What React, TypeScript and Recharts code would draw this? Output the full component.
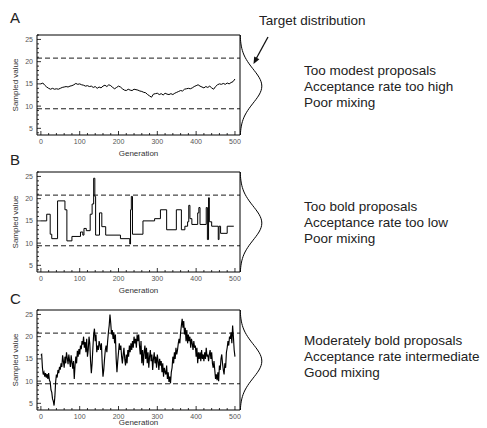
import React from 'react';
import { LineChart, Line, XAxis, YAxis, ReferenceLine } from 'recharts';

// ---------- axis ticks ----------
const generationTicks = [0, 20, 40, 60, 80, 100, 120, 140, 160, 180, 200, 220, 240, 260, 280, 300, 320, 340, 360, 380, 400, 420, 440, 460, 480, 500];
const valueTicks = [4, 5, 6, 7, 8, 9, 10, 11, 12, 13, 14, 15, 16, 17, 18, 19, 20, 21, 22, 23, 24, 25, 26];
const upperBound = 20.8;
const lowerBound = 9.4;

// ---------- Panel A: small steps (generation every 5) ----------
const genA = Array.from({ length: 101 }, (_, i) => i * 5);
const valA = [
  15.0, 15.2, 14.7, 14.3, 14.0, 13.8, 14.0, 13.8, 13.9, 13.8,
  14.0, 14.2, 14.3, 14.4, 14.3, 14.5, 14.6, 14.8, 15.1, 14.9,
  15.0, 14.8, 14.7, 14.5, 14.6, 14.4, 14.5, 14.2, 14.4, 14.0,
  14.3, 14.1, 14.5, 14.7, 14.4, 14.8, 14.6, 14.2, 13.9, 14.2,
  14.5, 14.3, 13.9, 13.6, 13.5, 13.8, 13.6, 13.5, 13.8, 13.7,
  13.6, 13.4, 13.3, 13.1, 13.0, 12.6, 12.3, 12.0, 12.7, 12.8,
  12.9, 12.6, 12.8, 12.5, 12.9, 12.7, 12.6, 12.8, 12.6, 12.9,
  13.1, 13.3, 13.5, 13.4, 13.8, 13.9, 14.0, 13.9, 14.1, 14.4,
  14.6, 14.8, 14.5, 14.3, 14.1, 14.4, 14.2, 14.5, 14.1, 13.8,
  14.4, 14.8, 15.0, 14.9, 15.1, 14.9, 15.2, 15.0, 15.3, 15.5,
  16.1,
];

// ---------- Panel B: bold steps (change points) ----------
const genB = [0, 15, 24, 28, 43, 62, 67, 80, 102, 108, 111, 117, 127, 132, 136, 139, 141, 151, 157, 167, 205, 229, 231, 233, 236, 263, 293, 308, 324, 349, 362, 371, 378, 381, 384, 389, 404, 407, 410, 426, 429, 432, 434, 440, 457, 459, 463, 480, 497];
const valB = [15.0, 16.5, 12.0, 11.0, 19.5, 17.5, 10.5, 11.5, 12.5, 11.8, 13.3, 12.8, 16.5, 18.8, 24.6, 20.5, 11.8, 16.8, 13.7, 11.8, 11.0, 9.8, 17.5, 20.5, 12.0, 15.0, 15.5, 17.5, 13.0, 17.5, 13.0, 13.8, 14.8, 18.5, 15.5, 14.2, 16.8, 18.0, 14.2, 18.0, 10.8, 20.2, 14.8, 13.8, 10.8, 13.8, 12.2, 13.8, 13.8];

// ---------- Panel C: moderate steps (generation every 2) ----------
const genC = Array.from({ length: 251 }, (_, i) => i * 2);
const valC = [
  15.8, 16.0, 13.0, 11.5, 12.0, 11.0, 11.8, 10.8, 11.6, 10.5,
  11.8, 10.2, 9.8, 8.0, 7.5, 6.0, 5.5, 4.5, 6.5, 9.8,
  11.5, 10.8, 12.5, 11.8, 13.2, 12.6, 14.0, 13.2, 15.8, 14.5,
  13.0, 15.5, 14.0, 16.5, 15.2, 13.8, 16.0, 14.5, 13.2, 15.8,
  14.2, 12.8, 14.5, 10.5, 13.5, 15.5, 14.0, 16.8, 15.5, 17.2,
  16.0, 18.0, 17.2, 19.0, 18.2, 20.0, 17.5, 18.8, 16.5, 19.5,
  15.5, 17.0, 20.0, 18.5, 14.5, 11.8, 14.0, 17.5, 20.5, 21.8,
  19.0, 20.5, 16.5, 18.0, 17.0, 19.0, 18.2, 17.0, 18.5, 14.0,
  11.0, 12.5, 15.0, 17.0, 18.0, 16.5, 19.0, 21.0, 22.5, 25.0,
  23.0, 20.5, 21.5, 19.5, 21.0, 18.5, 20.5, 15.0, 12.0, 14.5,
  16.5, 18.5, 17.0, 18.0, 15.5, 14.0, 16.0, 17.5, 15.0, 13.5,
  16.0, 14.0, 17.0, 15.5, 18.0, 16.5, 18.5, 17.0, 19.0, 17.5,
  20.0, 18.5, 19.5, 17.5, 20.5, 19.0, 20.5, 18.0, 16.0, 19.0,
  14.0, 17.0, 13.5, 16.5, 18.0, 15.0, 17.5, 14.0, 16.5, 13.0,
  15.5, 17.0, 14.5, 16.0, 12.5, 15.0, 16.5, 14.0, 15.5, 13.0,
  16.0, 14.5, 12.5, 15.0, 13.5, 14.5, 12.0, 14.0, 11.0, 13.0,
  12.0, 11.5, 13.5, 10.5, 12.0, 9.8, 11.0, 9.5, 12.0, 13.0,
  15.5, 14.0, 16.5, 15.0, 17.5, 16.0, 17.0, 18.5, 19.5, 18.5,
  21.0, 22.5, 24.0, 22.0, 23.5, 20.5, 22.0, 19.0, 21.5, 18.5,
  20.5, 19.0, 20.0, 17.5, 19.5, 18.5, 17.0, 19.0, 17.5, 18.0,
  15.5, 17.5, 14.0, 16.5, 15.0, 16.5, 14.5, 17.0, 15.0, 16.0,
  14.5, 16.5, 15.0, 17.5, 15.5, 16.0, 14.5, 16.0, 17.0, 15.0,
  16.5, 14.0, 13.0, 14.5, 12.5, 10.5, 11.5, 10.2, 12.0, 10.0,
  13.5, 12.5, 15.0, 16.0, 14.0, 12.5, 11.5, 14.0, 13.0, 16.5,
  17.5, 19.0, 18.0, 20.0, 19.5, 21.0, 18.5, 22.5, 20.0, 17.0,
  15.5,
];

// ---------- Target distribution (relative density) ----------
const densValue = [3.5, 4, 4.5, 5, 5.5, 6, 6.5, 7, 7.5, 8, 8.5, 9, 9.5, 10, 10.5, 11, 11.5, 12, 12.5, 13, 13.5, 14, 14.5, 15, 15.5, 16, 16.5, 17, 17.5, 18, 18.5, 19, 19.5, 20, 20.5, 21, 21.5, 22, 22.5, 23, 23.5, 24, 24.5, 25, 25.5, 26];
const densHeight = [0.0103, 0.0151, 0.022, 0.0314, 0.0439, 0.0605, 0.082, 0.109, 0.143, 0.183, 0.232, 0.288, 0.351, 0.421, 0.496, 0.575, 0.654, 0.732, 0.805, 0.871, 0.925, 0.966, 0.991, 1, 0.991, 0.966, 0.925, 0.871, 0.805, 0.732, 0.654, 0.575, 0.496, 0.421, 0.351, 0.288, 0.232, 0.183, 0.143, 0.109, 0.082, 0.0605, 0.0439, 0.0314, 0.022, 0.0151];

const panelLetters = ['A', 'B', 'C'];
const panelNotes = [
  ['Too modest proposals', 'Acceptance rate too high', 'Poor mixing'],
  ['Too bold proposals', 'Acceptance rate too low', 'Poor mixing'],
  ['Moderately bold proposals', 'Acceptance rate intermediate', 'Good mixing'],
];

const FONT = '"Liberation Sans", Arial, Helvetica, sans-serif';

const zip = (g: number[], v: number[]) => g.map((x, i) => ({ g: x, v: v[i] })).filter((d) => d.v !== undefined);
const dataA = zip(genA, valA);
const dataB = zip(genB, valB);
const dataC = zip(genC, valC);
const densData = densValue.map((v, i) => ({ v, d: densHeight[i] }));

const XTick = (props: any) => {
  const { x, y, payload } = props;
  const major = payload.value % 100 === 0;
  return (
    <g>
      <line x1={x} y1={y} x2={x} y2={y - (major ? 4 : 2)} stroke="#000" strokeWidth={0.8} />
      {major && (
        <text x={x} y={y + 8.5} textAnchor="middle" fontSize={7} fill="#555" fontFamily={FONT}>
          {payload.value}
        </text>
      )}
    </g>
  );
};

const YTick = (props: any) => {
  const { x, y, payload } = props;
  const major = payload.value % 5 === 0;
  return (
    <g>
      <line x1={x} y1={y} x2={x + (major ? 4 : 2)} y2={y} stroke="#000" strokeWidth={0.8} />
      {major && (
        <text x={x - 4} y={y + 2.5} textAnchor="end" fontSize={7} fill="#555" fontFamily={FONT}>
          {payload.value}
        </text>
      )}
    </g>
  );
};

const PLOT_TOPS = [35, 172, 310];
const LABEL_OFFSETS = [14, 14, 20];
const TRACE_WIDTHS = [1, 1, 1.15];

function TracePanel({ idx, data, step }: { idx: number; data: { g: number; v: number }[]; step: boolean }) {
  const plotTop = PLOT_TOPS[idx];
  return (
    <div style={{ position: 'absolute', left: 0, top: plotTop - 35, width: 260, height: 170 }}>
      <LineChart width={260} height={170} data={data} margin={{ top: 35, right: 20, bottom: 0, left: 10 }}>
        <XAxis
          type="number"
          dataKey="g"
          domain={[-10, 513]}
          ticks={generationTicks}
          interval={0}
          tickSize={0}
          tickMargin={0}
          tickLine={false}
          axisLine={{ stroke: '#000' }}
          height={35}
          tick={XTick}
          label={{ value: 'Generation', position: 'insideBottom', offset: LABEL_OFFSETS[idx], fontSize: 8, fill: '#333', fontFamily: FONT }}
        />
        <YAxis
          type="number"
          domain={[3.5, 26]}
          ticks={valueTicks}
          interval={0}
          tickSize={0}
          tickMargin={0}
          tickLine={false}
          axisLine={{ stroke: '#000' }}
          width={27}
          tick={YTick}
          label={{ value: 'Sampled value', angle: -90, position: 'insideLeft', offset: 5, fontSize: 8, fill: '#333', fontFamily: FONT, style: { textAnchor: 'middle' } }}
        />
        <ReferenceLine y={26} stroke="#000" strokeWidth={1} />
        <ReferenceLine x={513} stroke="#000" strokeWidth={1} />
        <ReferenceLine y={upperBound} stroke="#000" strokeWidth={0.9} strokeDasharray="5 3" />
        <ReferenceLine y={lowerBound} stroke="#000" strokeWidth={0.9} strokeDasharray="5 3" />
        <Line
          dataKey="v"
          type={step ? 'stepAfter' : 'linear'}
          stroke="#000"
          strokeWidth={TRACE_WIDTHS[idx]}
          dot={false}
          isAnimationActive={false}
        />
      </LineChart>
    </div>
  );
}

function DensityPanel({ plotTop }: { plotTop: number }) {
  return (
    <div style={{ position: 'absolute', left: 240, top: plotTop, width: 24, height: 100 }}>
      <LineChart width={24} height={100} data={densData} layout="vertical" margin={{ top: 0, right: 0, bottom: 0, left: 0 }}>
        <XAxis type="number" hide domain={[0, 1.1]} />
        <YAxis type="number" dataKey="v" hide domain={[3.5, 26]} />
        <Line dataKey="d" type="monotone" stroke="#000" strokeWidth={1} dot={false} isAnimationActive={false} />
      </LineChart>
    </div>
  );
}

const letterBaselines = [23, 165, 304];
const noteBaselines = [[75, 91, 107], [211, 227, 243], [345, 361, 377]];

export default function App() {
  return (
    <div
      style={{
        position: 'absolute',
        left: 0,
        top: 0,
        width: 487,
        height: 428,
        overflow: 'hidden',
        background: '#fff',
        fontFamily: FONT,
      }}
    >
      <TracePanel idx={0} data={dataA} step={false} />
      <TracePanel idx={1} data={dataB} step={true} />
      <TracePanel idx={2} data={dataC} step={false} />
      {PLOT_TOPS.map((t) => (
        <DensityPanel key={t} plotTop={t} />
      ))}
      <svg
        width={487}
        height={428}
        style={{ position: 'absolute', left: 0, top: 0, pointerEvents: 'none' }}
      >
        {panelLetters.map((l, i) => (
          <text key={l} x={10} y={letterBaselines[i]} fontSize={15} fill="#222" fontFamily={FONT}>
            {l}
          </text>
        ))}
        {panelNotes.map((lines, i) =>
          lines.map((s, j) => (
            <text key={`${i}-${j}`} x={304} y={noteBaselines[i][j]} fontSize={13.5} fill="#222" fontFamily={FONT}>
              {s}
            </text>
          ))
        )}
        <text x={259} y={25} fontSize={13.5} fill="#222" fontFamily={FONT}>
          Target distribution
        </text>
        <line x1={268} y1={37} x2={256} y2={59} stroke="#111" strokeWidth={1.3} />
        <polygon points="253.5,64 259.4,59.2 254.2,56.4" fill="#111" />
      </svg>
    </div>
  );
}
